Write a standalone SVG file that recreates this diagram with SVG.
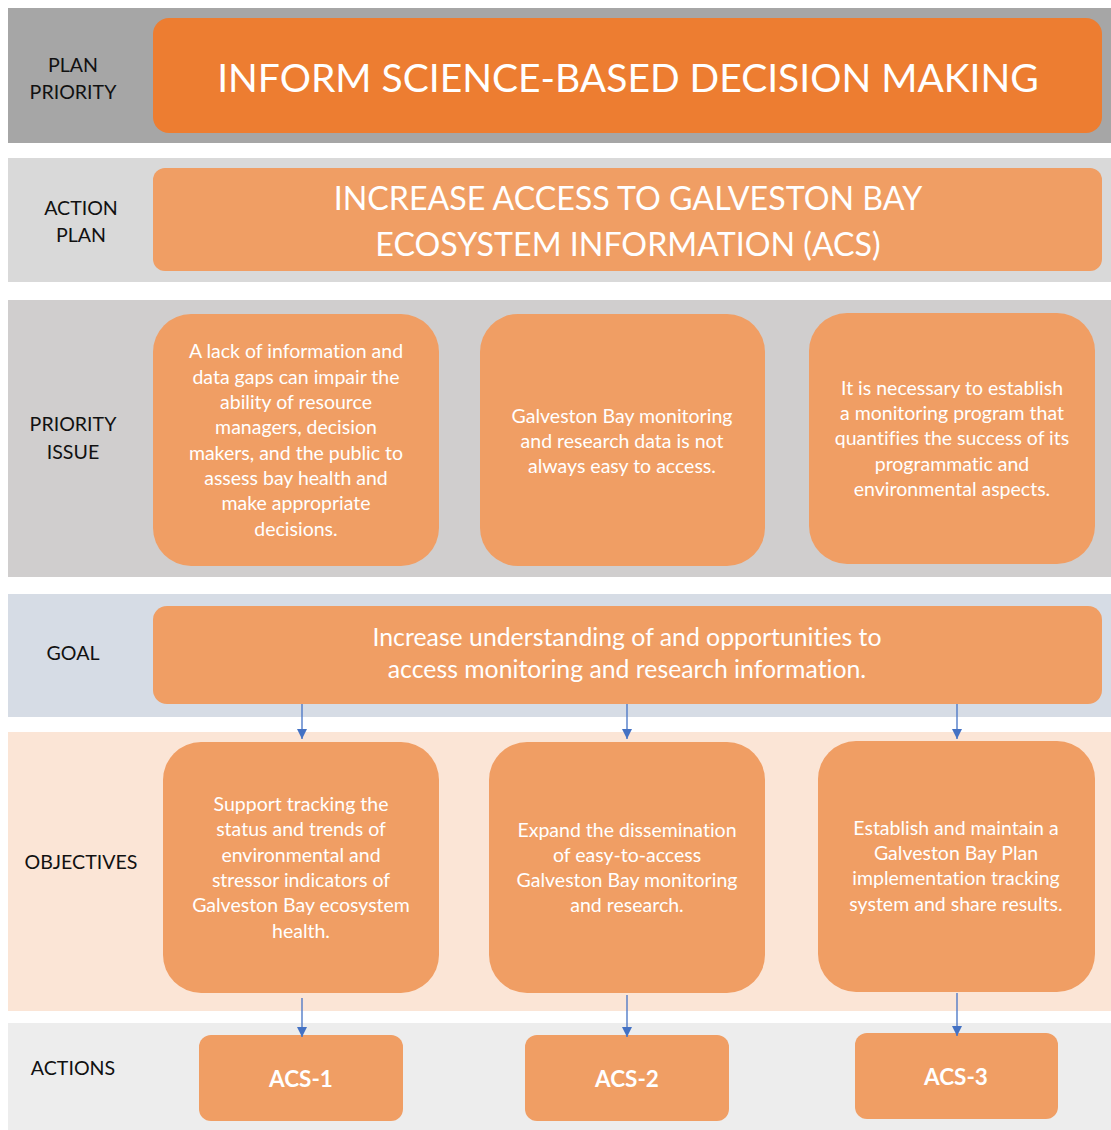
<svg xmlns="http://www.w3.org/2000/svg" width="1111" height="1130" viewBox="0 0 1111 1130">
<style>
text{font-variant-ligatures:none;font-feature-settings:"liga" 0,"clig" 0}
.lbl{font-family:Lato,"Open Sans","Liberation Sans",sans-serif;font-size:19.6px;fill:#111;text-anchor:middle}
.t{font-family:Lato,"Open Sans","Liberation Sans",sans-serif;fill:#fff;text-anchor:middle}
.body{font-size:19.5px}
.box{fill:#f09e64}
.conn line{stroke:#4472c4;stroke-width:1.3}
</style>
<defs>
<marker id="ah" viewBox="0 0 10 10" refX="10" refY="5" markerWidth="10" markerHeight="10" markerUnits="userSpaceOnUse" orient="auto">
<path d="M0,0 L10,5 L0,10 z" fill="#4472c4"/>
</marker>
</defs>
<rect width="1111" height="1130" fill="#fff"/>
<g id="bands">
<rect x="8" y="8" width="1103" height="135" fill="#a6a6a6"/>
<rect x="8" y="158" width="1103" height="124" fill="#d9d9d9"/>
<rect x="8" y="300" width="1103" height="277" fill="#d0cece"/>
<rect x="8" y="594" width="1103" height="123" fill="#d6dce5"/>
<rect x="8" y="732" width="1103" height="279" fill="#fbe5d6"/>
<rect x="8" y="1023" width="1103" height="107" fill="#ededed"/>
</g>
<g id="labels">
<text class="lbl" x="73" y="72">PLAN</text>
<text class="lbl" x="73" y="99">PRIORITY</text>
<text class="lbl" x="81" y="215">ACTION</text>
<text class="lbl" x="81" y="242">PLAN</text>
<text class="lbl" x="73" y="431">PRIORITY</text>
<text class="lbl" x="73" y="459">ISSUE</text>
<text class="lbl" x="73" y="660">GOAL</text>
<text class="lbl" x="81" y="869">OBJECTIVES</text>
<text class="lbl" x="73" y="1075">ACTIONS</text>
</g>
<g id="plan-priority">
<rect x="153" y="18" width="949" height="115" rx="16" fill="#ed7d31"/>
<text class="t" x="628" y="92" font-size="39">INFORM SCIENCE-BASED DECISION MAKING</text>
</g>
<g id="action-plan">
<rect class="box" x="153" y="168" width="949" height="103" rx="12"/>
<text class="t" x="628" y="210" font-size="32.2">INCREASE ACCESS TO GALVESTON BAY</text>
<text class="t" x="628" y="256" font-size="32.2">ECOSYSTEM INFORMATION (ACS)</text>
</g>
<g id="issue-1">
<rect class="box" x="153" y="314" width="286" height="252" rx="38"/>
<text class="t body" x="296" y="358">A lack of information and</text>
<text class="t body" x="296" y="384">data gaps can impair the</text>
<text class="t body" x="296" y="409">ability of resource</text>
<text class="t body" x="296" y="434">managers, decision</text>
<text class="t body" x="296" y="460">makers, and the public to</text>
<text class="t body" x="296" y="485">assess bay health and</text>
<text class="t body" x="296" y="510">make appropriate</text>
<text class="t body" x="296" y="536">decisions.</text>
</g>
<g id="issue-2">
<rect class="box" x="480" y="314" width="285" height="252" rx="38"/>
<text class="t body" x="622" y="423">Galveston Bay monitoring</text>
<text class="t body" x="622" y="448">and research data is not</text>
<text class="t body" x="622" y="473">always easy to access.</text>
</g>
<g id="issue-3">
<rect class="box" x="809" y="313" width="286" height="251" rx="38"/>
<text class="t body" x="952" y="395">It is necessary to establish</text>
<text class="t body" x="952" y="420">a monitoring program that</text>
<text class="t body" x="952" y="445">quantifies the success of its</text>
<text class="t body" x="952" y="471">programmatic and</text>
<text class="t body" x="952" y="496">environmental aspects.</text>
</g>
<g id="goal">
<rect class="box" x="153" y="606" width="949" height="98" rx="14"/>
<text class="t" x="627" y="646" font-size="24.8">Increase understanding of and opportunities to</text>
<text class="t" x="627" y="678" font-size="24.8">access monitoring and research information.</text>
</g>
<g id="objective-1">
<rect class="box" x="163" y="742" width="276" height="251" rx="38"/>
<text class="t body" x="301" y="811">Support tracking the</text>
<text class="t body" x="301" y="836">status and trends of</text>
<text class="t body" x="301" y="862">environmental and</text>
<text class="t body" x="301" y="887">stressor indicators of</text>
<text class="t body" x="301" y="912">Galveston Bay ecosystem</text>
<text class="t body" x="301" y="938">health.</text>
</g>
<g id="objective-2">
<rect class="box" x="489" y="742" width="276" height="251" rx="38"/>
<text class="t body" x="627" y="837">Expand the dissemination</text>
<text class="t body" x="627" y="862">of easy-to-access</text>
<text class="t body" x="627" y="887">Galveston Bay monitoring</text>
<text class="t body" x="627" y="912">and research.</text>
</g>
<g id="objective-3">
<rect class="box" x="818" y="741" width="277" height="251" rx="38"/>
<text class="t body" x="956" y="835">Establish and maintain a</text>
<text class="t body" x="956" y="860">Galveston Bay Plan</text>
<text class="t body" x="956" y="885">implementation tracking</text>
<text class="t body" x="956" y="911">system and share results.</text>
</g>
<g id="acs-1">
<rect class="box" x="199" y="1035" width="204" height="86" rx="12"/>
<text class="t" x="301" y="1087" font-size="22.5" font-weight="bold">ACS-1</text>
</g>
<g id="acs-2">
<rect class="box" x="525" y="1035" width="204" height="86" rx="12"/>
<text class="t" x="627" y="1087" font-size="22.5" font-weight="bold">ACS-2</text>
</g>
<g id="acs-3">
<rect class="box" x="855" y="1033" width="203" height="86" rx="12"/>
<text class="t" x="956" y="1085" font-size="22.5" font-weight="bold">ACS-3</text>
</g>
<g id="connectors" class="conn">
<line x1="302" y1="704" x2="302" y2="739" marker-end="url(#ah)"/>
<line x1="627" y1="704" x2="627" y2="739" marker-end="url(#ah)"/>
<line x1="957" y1="704" x2="957" y2="739" marker-end="url(#ah)"/>
<line x1="302" y1="998" x2="302" y2="1037" marker-end="url(#ah)"/>
<line x1="627" y1="995" x2="627" y2="1037" marker-end="url(#ah)"/>
<line x1="957" y1="993" x2="957" y2="1036" marker-end="url(#ah)"/>
</g>
</svg>
